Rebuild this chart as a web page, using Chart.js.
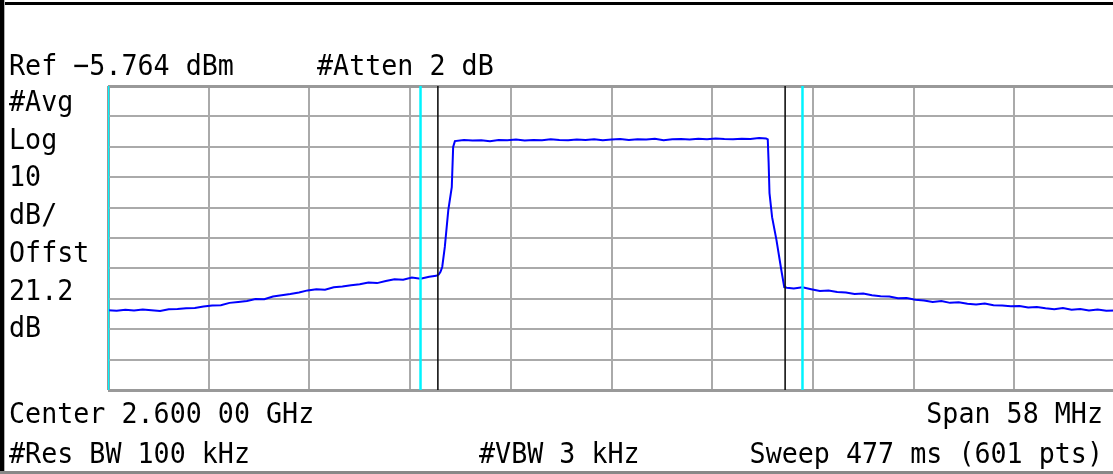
<!DOCTYPE html>
<html>
<head>
<meta charset="utf-8">
<script src="https://cdn.jsdelivr.net/npm/chart.js@4"></script>
<style>
  html, body { margin: 0; padding: 0; background: #fff; overflow: hidden; }
  canvas { display: block; }
</style>
</head>
<body>
<canvas id="sa" width="1120" height="474"></canvas>
<script>
// trace (MHz, dBm)
const freqMHz = [
  2571.0, 2571.5, 2572.0, 2572.5, 2573.0, 2573.5, 2574.0, 2574.5, 2575.0, 2575.5,
  2576.0, 2576.5, 2577.0, 2577.5, 2578.0, 2578.5, 2579.0, 2579.5, 2580.0, 2580.5,
  2581.0, 2581.5, 2582.0, 2582.5, 2583.0, 2583.5, 2584.0, 2584.5, 2585.0, 2585.5,
  2586.0, 2586.5, 2587.0, 2587.5, 2588.0, 2588.5, 2589.0, 2589.5, 2589.9,
  2590.05, 2590.15, 2590.25, 2590.4, 2590.6, 2590.8, 2590.88, 2590.98,
  2591.5, 2592.0, 2592.5, 2593.0, 2593.5, 2594.0, 2594.5, 2595.0, 2595.5,
  2596.0, 2596.5, 2597.0, 2597.5, 2598.0, 2598.5, 2599.0, 2599.5, 2600.0, 2600.5,
  2601.0, 2601.5, 2602.0, 2602.5, 2603.0, 2603.5, 2604.0, 2604.5, 2605.0, 2605.5,
  2606.0, 2606.5, 2607.0, 2607.5, 2608.0, 2608.5, 2608.9, 2609.0,
  2609.05, 2609.1, 2609.25, 2609.5, 2609.78, 2609.95,
  2610.1, 2610.5, 2611.0, 2611.5, 2612.0, 2612.5, 2613.0, 2613.5, 2614.0, 2614.5,
  2615.0, 2615.5, 2616.0, 2616.5, 2617.0, 2617.5, 2618.0, 2618.5, 2619.0, 2619.5,
  2620.0, 2620.5, 2621.0, 2621.5, 2622.0, 2622.5, 2623.0, 2623.5, 2624.0, 2624.5,
  2625.0, 2625.5, 2626.0, 2626.5, 2627.0, 2627.5, 2628.0, 2628.5, 2629.0
];
const levelDbm = [
  -79.5, -79.7, -79.4, -79.6, -79.3, -79.5, -79.8, -79.2, -79.1, -78.9,
  -78.8, -78.3, -78.0, -77.9, -77.1, -76.8, -76.5, -75.8, -75.9, -75.0,
  -74.6, -74.2, -73.7, -73.0, -72.6, -72.8, -72.0, -71.7, -71.3, -71.0,
  -70.4, -70.6, -69.9, -69.3, -69.5, -68.8, -69.2, -68.5, -68.2,
  -67.8, -66.9, -65.3, -58.7, -46.6, -39.0, -25.8, -23.9,
  -23.5, -23.7, -23.6, -23.9, -23.5, -23.6, -23.4, -23.7, -23.5,
  -23.6, -23.3, -23.5, -23.6, -23.4, -23.5, -23.3, -23.6, -23.4, -23.2,
  -23.5, -23.3, -23.4, -23.1, -23.6, -23.3, -23.2, -23.4, -23.1, -23.3,
  -23.0, -23.2, -23.3, -23.1, -23.2, -22.9, -23.0, -23.3,
  -31.0, -41.0, -48.9, -56.4, -66.3, -71.9,
  -72.1, -72.4, -72.0, -72.6, -73.2, -73.0, -73.5, -73.7, -74.2, -74.0,
  -74.6, -74.9, -75.0, -75.6, -75.5, -76.1, -76.3, -76.8, -76.5, -77.1,
  -76.9, -77.4, -77.6, -77.3, -77.9, -78.0, -78.2, -78.1, -78.6, -78.5,
  -78.9, -79.2, -78.8, -79.4, -79.1, -79.6, -79.3, -79.7, -79.6
];

const cyanMarkersMHz = [2571, 2589, 2611, 2629];
const blackMarkersMHz = [2590, 2610];

const centerMHz = 2600;
const spanMHz = 58;
const refLevel = -5.764;
const dbPerDiv = 10;
const divisions = 10;

const topLabels = ["Ref \u22125.764 dBm", "#Atten 2 dB"];
const sideLabels = ["#Avg", "Log", "10", "dB/", "Offst", "21.2", "dB"];
const bottomLabels = ["Center 2.600 00 GHz", "Span 58 MHz", "#Res BW 100 kHz", "#VBW 3 kHz", "Sweep 477 ms (601 pts)"];

const xMin = centerMHz - spanMHz / 2;
const xMax = centerMHz + spanMHz / 2;
const yMax = refLevel;
const yMin = refLevel - dbPerDiv * divisions;

function markerSet(f, color, width) {
  return {
    data: [{ x: f, y: yMin }, { x: f, y: yMax }],
    borderColor: color,
    borderWidth: width,
    pointRadius: 0,
    order: 0,
  };
}

const datasets = [];
cyanMarkersMHz.forEach((f) => datasets.push(markerSet(f, "#00f4ff", 2.5)));
blackMarkersMHz.forEach((f) => datasets.push(markerSet(f, "#111111", 1.6)));
datasets.push({
  data: freqMHz.map((f, i) => ({ x: f, y: levelDbm[i] })),
  borderColor: "#0000ff",
  borderWidth: 2,
  pointRadius: 0,
  tension: 0,
  order: 1,
});

function edgeWidth(c) {
  return c.index === 0 || c.index === divisions ? 3 : 2;
}
function edgeColor(c) {
  return c.index === 0 || c.index === divisions ? "#999999" : "#aaaaaa";
}

// text and frame around the graticule
const screenText = {
  id: "screenText",
  beforeDraw(chart) {
    const c = chart.ctx;
    c.save();
    c.fillStyle = "#ffffff";
    c.fillRect(0, 0, chart.width, chart.height);
    c.restore();
  },
  afterDraw(chart) {
    const c = chart.ctx;
    const sx = 0.92;
    c.save();
    c.fillStyle = "#000000";
    c.fillRect(0, 2, chart.width, 3);
    c.fillRect(0, 0, 4, chart.height);
    c.fillStyle = "#b0b0b0";
    c.fillRect(4, 0, 1, chart.height);
    c.fillStyle = "#888888";
    c.fillRect(0, 471, chart.width, 3);

    c.scale(sx, 1);
    c.font = "29px 'DejaVu Sans Mono'";
    c.fillStyle = "#000000";
    c.textBaseline = "alphabetic";
    c.textAlign = "left";
    c.fillText(topLabels[0], 9 / sx, 75);
    c.fillText(topLabels[1], 317 / sx, 75);
    sideLabels.forEach((t, i) => c.fillText(t, 9 / sx, 111 + i * 37.7));
    c.fillText(bottomLabels[0], 9 / sx, 423);
    c.fillText(bottomLabels[2], 9 / sx, 463);
    c.fillText(bottomLabels[3], 479 / sx, 463);
    c.textAlign = "right";
    c.fillText(bottomLabels[1], 1103 / sx, 423);
    c.fillText(bottomLabels[4], 1103 / sx, 463);
    c.restore();
  },
};

new Chart(document.getElementById("sa").getContext("2d"), {
  type: "line",
  data: { datasets },
  options: {
    responsive: false,
    animation: false,
    devicePixelRatio: 1,
    layout: { padding: { left: 108, top: 86, right: 5, bottom: 84 } },
    plugins: { legend: { display: false }, tooltip: { enabled: false } },
    scales: {
      x: {
        type: "linear",
        min: xMin,
        max: xMax,
        afterBuildTicks: (s) => {
          s.ticks = [];
          for (let i = 0; i <= divisions; i++) s.ticks.push({ value: xMin + (spanMHz / divisions) * i });
        },
        ticks: { display: false },
        border: { display: false },
        grid: { drawTicks: false, lineWidth: edgeWidth, color: edgeColor },
      },
      y: {
        type: "linear",
        min: yMin,
        max: yMax,
        afterBuildTicks: (s) => {
          s.ticks = [];
          for (let i = 0; i <= divisions; i++) s.ticks.push({ value: yMin + dbPerDiv * i });
        },
        ticks: { display: false },
        border: { display: false },
        grid: { drawTicks: false, lineWidth: edgeWidth, color: edgeColor },
      },
    },
  },
  plugins: [screenText],
});
</script>
</body>
</html>
